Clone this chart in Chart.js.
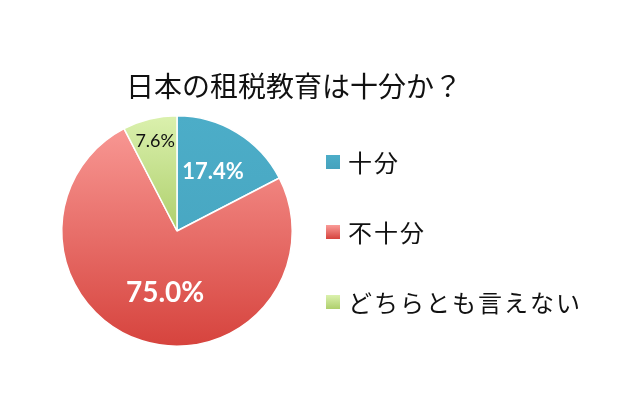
<!DOCTYPE html>
<html>
<head>
<meta charset="utf-8">
<script src="https://cdn.jsdelivr.net/npm/chart.js@4"></script>
<style>
  html, body { margin: 0; padding: 0; background: #ffffff; }
  #wrap { width: 618px; height: 411px; }
</style>
</head>
<body>
<div id="wrap"><canvas id="grafico" width="618" height="411"></canvas></div>
<script>
const titulo = "日本の租税教育は十分か？";
const categorias = ["十分", "不十分", "どちらとも言えない"];
const porcentagens = [17.4, 75.0, 7.6];

// cores: topo e base do degradê de cada fatia
const corTopo = ["#4cadc8", "#fa9c98", "#dbf1ae"];
const corBase = ["#45a2bd", "#d6433d", "#aecf6c"];
const corRotulo = ["#ffffff", "#ffffff", "#111111"];
const fonteRotulo = ["bold 22px Lato", "bold 28px Lato", "18px Lato"];
const raioRotulo = [0.6, 0.545, 0.8];
const fracaoRotulo = [0.5, 0.475, 0.5];

const fonteJp = '"Noto Sans CJK JP", sans-serif';

function degrade(context) {
    const chart = context.chart;
    const area = chart.chartArea;
    const i = context.dataIndex;
    if (!area) return corTopo[i];
    const cy = (area.top + area.bottom) / 2;
    const r = Math.min(area.right - area.left, area.bottom - area.top) / 2;
    // a fatia verde só ocupa a metade de cima
    const fim = i === 2 ? cy : cy + r;
    const g = chart.ctx.createLinearGradient(0, cy - r, 0, fim);
    g.addColorStop(0, corTopo[i]);
    g.addColorStop(1, corBase[i]);
    return g;
}

const extras = {
    id: "extras",
    afterDraw(chart) {
        const ctx = chart.ctx;
        ctx.save();

        // título
        ctx.fillStyle = "#111111";
        ctx.font = "28px " + fonteJp;
        ctx.textAlign = "center";
        ctx.textBaseline = "middle";
        ctx.fillText(titulo, 294, 86);

        // rótulos de porcentagem
        const meta = chart.getDatasetMeta(0);
        meta.data.forEach((arco, i) => {
            const p = arco.getProps(["x", "y", "startAngle", "endAngle", "outerRadius"]);
            const ang = p.startAngle + (p.endAngle - p.startAngle) * fracaoRotulo[i];
            const d = p.outerRadius * raioRotulo[i];
            ctx.font = fonteRotulo[i];
            ctx.fillStyle = corRotulo[i];
            ctx.fillText(porcentagens[i].toFixed(1) + "%", p.x + Math.cos(ang) * d, p.y + Math.sin(ang) * d);
        });

        // legenda
        ctx.textAlign = "left";
        ctx.font = "24px " + fonteJp;
        ctx.letterSpacing = "2px";
        categorias.forEach((nome, i) => {
            const y = 162 + i * 70;
            const g = ctx.createLinearGradient(0, y - 7, 0, y + 7);
            g.addColorStop(0, corTopo[i]);
            g.addColorStop(1, corBase[i]);
            ctx.fillStyle = g;
            ctx.fillRect(326, y - 7, 14, 14);
            ctx.fillStyle = "#111111";
            ctx.fillText(nome, 348, y + 1);
        });

        ctx.restore();
    }
};

new Chart(document.getElementById("grafico"), {
    type: "pie",
    data: {
        labels: categorias,
        datasets: [{
            data: porcentagens,
            backgroundColor: degrade,
            borderColor: "#ffffff",
            borderWidth: 1.5,
            hoverOffset: 0
        }]
    },
    options: {
        responsive: false,
        animation: false,
        events: [],
        layout: { padding: { top: 115, bottom: 64, left: 20, right: 284 } },
        plugins: {
            legend: { display: false },
            title: { display: false },
            tooltip: { enabled: false }
        }
    },
    plugins: [extras]
});
</script>
</body>
</html>
